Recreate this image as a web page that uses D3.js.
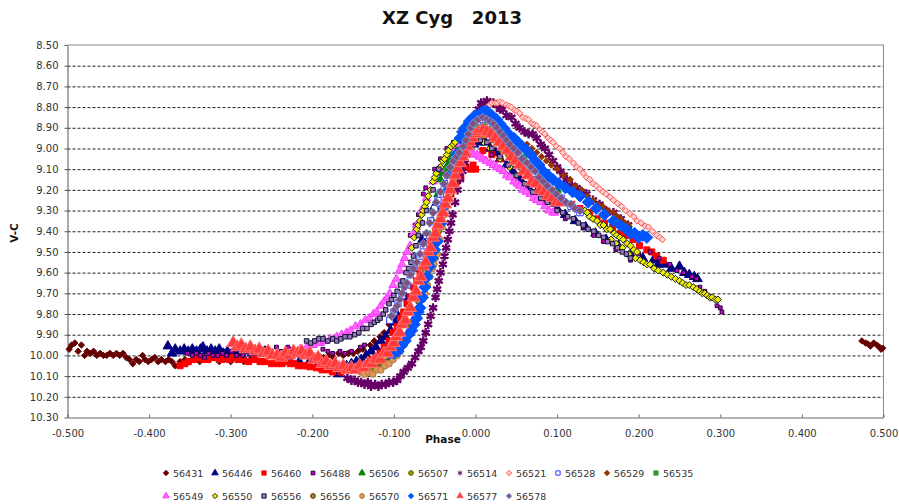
<!DOCTYPE html>
<html>
<head>
<meta charset="utf-8">
<style>
  body { margin: 0; background: #fff; }
  text { font-family: "DejaVu Sans", sans-serif; fill: #333; }
  .grid line { stroke: #222; stroke-width: 1; stroke-dasharray: 3,2; }
  .grid path { stroke: none; }
</style>
<script src="https://cdnjs.cloudflare.com/ajax/libs/d3/7.8.5/d3.min.js"></script>
</head>
<body>
<script>
// readings: [phase, V-C]
var s56431 = [[-0.498,9.97],[-0.495,9.95],[-0.491,9.94],[-0.487,9.98],[-0.483,9.95],[-0.479,10.00],[-0.476,9.98],[-0.472,9.99],[-0.468,9.98],[-0.464,10.00],[-0.460,9.99],[-0.456,10.00],[-0.452,10.00],[-0.448,9.99],[-0.444,10.00],[-0.440,9.99],[-0.436,10.00],[-0.432,9.99],[-0.428,10.01],[-0.424,10.02],[-0.420,10.04],[-0.416,10.02],[-0.412,10.03],[-0.408,10.00],[-0.405,10.02],[-0.401,10.03],[-0.397,10.02],[-0.393,10.01],[-0.389,10.03],[-0.385,10.02],[-0.380,10.03],[-0.376,10.02],[-0.372,10.03],[-0.368,10.05],[-0.362,10.03],[-0.356,10.02],[-0.35,10.03],[-0.344,10.02],[-0.338,10.03],[-0.332,10.01],[-0.326,10.02],[-0.32,10.01],[-0.314,10.03],[-0.308,10.02],[-0.30,10.03],[-0.292,10.02],[-0.284,10.03],[-0.276,10.02],[-0.268,10.02],[-0.26,10.03],
  [-0.192,10.00],[-0.186,10.01],[-0.18,10.00],[-0.174,10.01],[-0.168,9.99],[-0.162,10.00],[-0.156,9.99],[-0.15,9.99],[-0.144,9.98],[-0.138,9.97],[-0.129,9.95],[-0.124,9.93],[-0.117,9.91],[-0.112,9.89],[-0.106,9.85],[-0.103,9.83],
  [0.4735,9.93],[0.478,9.94],[0.481,9.945],[0.484,9.955],[0.488,9.94],[0.492,9.95],[0.495,9.96],[0.497,9.97],[0.499,9.965]];
var s56446 = [[-0.377,9.955],[-0.372,9.99],[-0.368,9.97],[-0.362,9.98],[-0.357,9.97],[-0.352,9.98],[-0.347,9.97],[-0.342,9.98],[-0.337,9.97],[-0.334,9.96],[-0.329,9.98],[-0.324,9.97],[-0.319,9.98],[-0.314,9.97],[-0.309,9.99],[-0.304,9.98],[-0.298,9.99],[-0.292,9.98],[-0.286,10.00],[-0.28,9.98],[-0.274,9.99],[-0.266,9.99],[-0.258,9.98],[-0.25,10.00],[-0.24,10.01],[-0.228,10.02],[-0.216,10.03],[-0.205,10.04],[-0.194,10.05],[-0.184,10.06],[-0.176,10.06],[-0.168,10.09],[-0.158,10.05],[-0.152,10.04],[-0.146,10.03],[-0.14,10.02],[-0.134,10.00],[-0.128,9.98],[-0.122,9.96],[-0.116,9.93],[-0.11,9.91],[-0.104,9.88],[-0.099,9.84],[-0.095,9.81],[-0.085,9.72],[-0.075,9.58],[-0.065,9.44],[-0.05,9.28],[-0.03,9.08],[-0.012,8.99],[-0.002,8.98],[0.006,8.97],[0.012,8.97],[0.018,9.00],[0.025,9.02],[0.03,9.05],[0.038,9.08],[0.046,9.11],[0.055,9.15],[0.065,9.19],[0.075,9.21],[0.087,9.25],[0.1,9.29],[0.11,9.32],[0.122,9.35],[0.135,9.38],[0.147,9.41],[0.16,9.44],[0.175,9.47],[0.19,9.51],[0.205,9.53],[0.218,9.54],[0.224,9.56],[0.232,9.56],[0.24,9.58],[0.25,9.57],[0.256,9.60],[0.262,9.61],[0.268,9.62],[0.272,9.63]];
var s56460 = [[-0.362,10.05],[-0.356,10.04],[-0.352,10.03],[-0.345,10.02],[-0.338,10.01],[-0.333,10.02],[-0.328,10.02],[-0.323,10.01],[-0.318,10.01],[-0.313,10.02],[-0.308,10.01],[-0.302,10.02],[-0.297,10.01],[-0.291,10.02],[-0.285,10.02],[-0.278,10.03],[-0.27,10.02],[-0.264,10.03],[-0.258,10.03],[-0.25,10.04],[-0.243,10.04],[-0.237,10.04],[-0.232,10.03],[-0.227,10.04],[-0.222,10.04],[-0.217,10.05],[-0.212,10.05],[-0.207,10.05],[-0.203,10.055],[-0.195,10.06],[-0.188,10.07],[-0.181,10.07],[-0.175,10.08],[-0.165,10.08],[-0.158,10.07],[-0.148,10.06],[-0.141,10.05],[-0.134,10.04],[-0.128,10.02],[-0.122,10.01],[-0.117,9.99],[-0.112,9.96],[-0.106,9.93],[-0.101,9.89],[-0.096,9.86],[-0.092,9.82],[-0.088,9.79],[-0.084,9.75],[-0.08,9.72],[-0.076,9.67],[-0.072,9.64],[-0.068,9.60],[-0.064,9.57],[-0.059,9.51],[-0.054,9.46],[-0.049,9.40],[-0.043,9.35],[-0.037,9.28],[-0.03,9.22],[-0.024,9.17],[-0.018,9.14],[-0.012,9.09],[-0.006,9.10],[-0.003,9.08],[0.0,9.10],[0.009,9.01],[0.02,9.03],[0.03,9.05],[0.118,9.27],[0.128,9.29],[0.14,9.31],[0.149,9.34],[0.158,9.36],[0.168,9.38],[0.177,9.41],[0.185,9.42],[0.193,9.44],[0.201,9.47],[0.21,9.49],[0.216,9.50],[0.222,9.52],[0.23,9.54]];
var s56488 = [[-0.353,9.99],[-0.347,10.00],[-0.342,9.99],[-0.337,10.00],[-0.332,10.01],[-0.327,9.99],[-0.322,10.00],[-0.316,10.00],[-0.31,9.99],[-0.305,10.00],[-0.299,9.98],[-0.293,10.00],[-0.285,10.00],[-0.272,9.96],[-0.267,9.98],[-0.262,9.97],[-0.256,9.99],[-0.25,9.98],[-0.244,9.96],[-0.238,9.98],[-0.23,9.96],[-0.225,9.97],[-0.215,9.98],[-0.187,9.97],[-0.181,9.98],[-0.175,9.99],[-0.166,9.98],[-0.16,9.99],[-0.152,9.98],[-0.141,9.96],[-0.136,9.95],[-0.08,9.42],[-0.074,9.37],[-0.07,9.32],[-0.064,9.22],[-0.061,9.19],[-0.05,9.10],[-0.043,9.05],[-0.035,9.00],[-0.027,8.97],[0.02,9.03],[0.06,9.17],[0.08,9.25],[0.11,9.34],[0.132,9.38],[0.145,9.42],[0.157,9.45],[0.172,9.49],[0.19,9.54],[0.2,9.51],[0.214,9.50],[0.225,9.53],[0.238,9.56],[0.247,9.59],[0.255,9.60],[0.265,9.62],[0.271,9.63],[0.275,9.67],[0.281,9.69],[0.288,9.72],[0.296,9.76],[0.3,9.77],[0.302,9.79]];
var s56506 = [[-0.13,10.05],[-0.12,10.03],[-0.11,9.99],[-0.1,9.92],[-0.09,9.84],[-0.082,9.77],[-0.075,9.71],[-0.068,9.64],[-0.062,9.58],[-0.059,9.50],[-0.056,9.42],[-0.053,9.35],[-0.05,9.29],[-0.046,9.22],[-0.043,9.15],[-0.04,9.12],[-0.037,9.10],[-0.034,9.08],[-0.031,9.06],[-0.025,9.02],[-0.02,8.99],[-0.015,8.97],[-0.01,8.95],[-0.004,8.93],[0.002,8.91],[0.01,8.91],[0.02,8.92],[0.03,8.95],[0.037,8.98],[0.046,9.01],[0.054,9.04],[0.062,9.07],[0.07,9.10],[0.078,9.13],[0.087,9.15],[0.1,9.20]];
var s56507 = [[-0.14,10.07],[-0.134,10.07],[-0.128,10.06],[-0.122,10.06],[-0.117,10.05],[-0.111,10.03],[-0.105,10.01],[-0.098,9.98],[-0.092,9.95],[-0.08,9.85],[-0.068,9.72],[-0.055,9.55],[-0.04,9.32],[-0.025,9.12],[-0.01,8.98],[0.005,8.93],[0.02,8.94],[0.03,8.98],[0.04,9.03],[0.05,9.06],[0.06,9.10],[0.07,9.14],[0.08,9.18],[0.09,9.22],[0.1,9.25]];
var s56514 = [[-0.157,10.11],[-0.152,10.12],[-0.148,10.12],[-0.144,10.13],[-0.14,10.13],[-0.136,10.14],[-0.132,10.13],[-0.128,10.15],[-0.123,10.14],[-0.119,10.15],[-0.115,10.14],[-0.11,10.14],[-0.106,10.13],[-0.101,10.13],[-0.096,10.12],[-0.092,10.10],[-0.088,10.08],[-0.083,10.06],[-0.078,10.04],[-0.074,10.01],[-0.07,9.98],[-0.067,9.96],[-0.064,9.93],[-0.061,9.89],[-0.058,9.85],[-0.055,9.81],[-0.052,9.77],[-0.049,9.72],[-0.047,9.68],[-0.045,9.64],[-0.043,9.60],[-0.04,9.56],[-0.038,9.52],[-0.036,9.48],[-0.034,9.44],[-0.032,9.40],[-0.03,9.36],[-0.028,9.32],[-0.025,9.26],[-0.022,9.20],[-0.019,9.15],[-0.016,9.11],[-0.013,9.07],[-0.011,9.03],[-0.009,8.99],[0.002,8.83],[0.004,8.81],[0.007,8.78],[0.011,8.79],[0.014,8.77],[0.018,8.78],[0.022,8.78],[0.026,8.79],[0.03,8.81],[0.033,8.81],[0.038,8.84],[0.044,8.85],[0.049,8.88],[0.054,8.90],[0.06,8.92],[0.065,8.93],[0.07,8.93],[0.075,8.95],[0.08,8.98],[0.085,9.00],[0.09,9.03],[0.095,9.06],[0.1,9.09],[0.104,9.11],[0.108,9.13],[0.112,9.15],[0.118,9.18],[0.124,9.19],[0.13,9.21],[0.136,9.22],[0.144,9.25],[0.152,9.27],[0.16,9.30],[0.169,9.31],[0.178,9.34],[0.187,9.37]];
var s56521 = [[0.014,8.80],[0.017,8.79],[0.02,8.78],[0.024,8.78],[0.027,8.78],[0.03,8.775],[0.033,8.78],[0.038,8.79],[0.041,8.795],[0.044,8.80],[0.048,8.815],[0.051,8.82],[0.054,8.83],[0.058,8.85],[0.062,8.855],[0.065,8.86],[0.069,8.88],[0.072,8.885],[0.075,8.89],[0.079,8.91],[0.082,8.92],[0.085,8.93],[0.089,8.95],[0.092,8.96],[0.095,8.97],[0.099,8.99],[0.103,9.00],[0.107,9.02],[0.111,9.04],[0.115,9.05],[0.12,9.07],[0.124,9.09],[0.128,9.10],[0.132,9.12],[0.136,9.14],[0.14,9.15],[0.144,9.17],[0.148,9.18],[0.152,9.195],[0.156,9.21],[0.16,9.22],[0.165,9.235],[0.169,9.25],[0.174,9.265],[0.179,9.28],[0.184,9.30],[0.189,9.315],[0.194,9.33],[0.198,9.35],[0.203,9.36],[0.208,9.375],[0.212,9.38],[0.217,9.40],[0.222,9.42],[0.226,9.43],[0.229,9.44]];
var s56528 = [[-0.105,9.83],[-0.1,9.79],[-0.095,9.75],[-0.09,9.71],[-0.084,9.66],[-0.08,9.61],[-0.075,9.57],[-0.068,9.52],[-0.064,9.47],[-0.06,9.42],[-0.055,9.35],[-0.05,9.29],[-0.046,9.25],[-0.043,9.22],[-0.038,9.17],[-0.034,9.13],[-0.027,9.07],[-0.021,9.03],[-0.015,9.00],[-0.009,8.94],[-0.003,8.89],[0.003,8.87],[0.009,8.86],[0.018,8.88],[0.026,8.91],[0.034,8.95],[0.042,8.99],[0.052,9.03],[0.063,9.08],[0.073,9.12],[0.083,9.17],[0.094,9.21],[0.105,9.24],[0.117,9.28],[0.128,9.31]];
var s56529 = [[0.063,8.98],[0.069,9.00],[0.075,9.02],[0.081,9.04],[0.087,9.06],[0.093,9.08],[0.1,9.10],[0.108,9.13],[0.116,9.15],[0.122,9.18],[0.13,9.20],[0.137,9.23],[0.144,9.25],[0.15,9.27],[0.156,9.28],[0.162,9.30],[0.169,9.31],[0.174,9.33],[0.178,9.34],[0.183,9.36],[0.187,9.37]];
var s56535 = [[-0.04,9.10],[-0.03,9.03],[-0.02,8.97],[-0.01,8.93],[0.0,8.90],[0.01,8.89],[0.02,8.90],[0.03,8.93],[0.04,8.97],[0.05,9.00],[0.06,9.04],[0.07,9.08],[0.08,9.12]];
var s56549 = [[-0.215,9.97],[-0.207,9.96],[-0.199,9.95],[-0.19,9.94],[-0.185,9.93],[-0.178,9.92],[-0.17,9.91],[-0.164,9.90],[-0.158,9.89],[-0.153,9.88],[-0.147,9.86],[-0.141,9.85],[-0.135,9.83],[-0.13,9.82],[-0.125,9.80],[-0.121,9.79],[-0.116,9.76],[-0.112,9.74],[-0.108,9.72],[-0.105,9.70],[-0.101,9.66],[-0.097,9.63],[-0.093,9.59],[-0.09,9.56],[-0.087,9.53],[-0.084,9.50],[-0.08,9.47],[-0.076,9.41],[-0.072,9.37],[-0.066,9.30],[-0.06,9.24],[-0.052,9.16],[-0.045,9.10],[-0.03,9.00],[-0.02,8.98],[-0.006,9.02],[-0.002,9.03],[0.002,9.03],[0.005,9.04],[0.009,9.05],[0.013,9.06],[0.018,9.07],[0.022,9.08],[0.026,9.09],[0.03,9.10],[0.034,9.11],[0.038,9.13],[0.042,9.14],[0.047,9.16],[0.051,9.17],[0.054,9.18],[0.058,9.20],[0.062,9.21],[0.067,9.22],[0.071,9.24],[0.075,9.25],[0.08,9.26],[0.085,9.28],[0.09,9.30],[0.095,9.31],[0.097,9.31]];
var s56550 = [[-0.078,9.48],[-0.075,9.43],[-0.072,9.39],[-0.07,9.37],[-0.068,9.35],[-0.066,9.32],[-0.064,9.30],[-0.062,9.28],[-0.06,9.26],[-0.058,9.23],[-0.055,9.20],[-0.052,9.16],[-0.05,9.14],[-0.048,9.12],[-0.045,9.10],[-0.043,9.09],[-0.04,9.06],[-0.038,9.05],[-0.035,9.03],[-0.033,9.01],[-0.03,8.99],[-0.027,8.98],[-0.025,8.97],[0.01,8.97],[0.018,9.00],[0.03,9.05],[0.042,9.09],[0.05,9.13],[0.134,9.30],[0.137,9.31],[0.14,9.33],[0.144,9.34],[0.149,9.35],[0.153,9.37],[0.157,9.37],[0.161,9.39],[0.165,9.39],[0.17,9.41],[0.173,9.42],[0.177,9.43],[0.181,9.44],[0.186,9.46],[0.19,9.47],[0.194,9.49],[0.198,9.50],[0.166,9.44],[0.172,9.46],[0.18,9.48],[0.188,9.51],[0.196,9.53],[0.202,9.54],[0.206,9.55],[0.21,9.56],[0.214,9.56],[0.219,9.58],[0.224,9.59],[0.23,9.60],[0.235,9.61],[0.24,9.62],[0.245,9.63],[0.25,9.64],[0.254,9.65],[0.258,9.66],[0.262,9.66],[0.267,9.67],[0.271,9.68],[0.275,9.69],[0.278,9.70],[0.281,9.70],[0.284,9.71],[0.287,9.72],[0.29,9.72],[0.294,9.73],[0.297,9.73]];
var s56556a = [[-0.207,9.93],[-0.202,9.94],[-0.197,9.93],[-0.192,9.92],[-0.187,9.92],[-0.181,9.93],[-0.175,9.92],[-0.17,9.93],[-0.165,9.92],[-0.16,9.91],[-0.154,9.91],[-0.148,9.90],[-0.143,9.89],[-0.138,9.87],[-0.133,9.87],[-0.128,9.85],[-0.124,9.84],[-0.12,9.83],[-0.117,9.82],[-0.113,9.80],[-0.11,9.78],[-0.106,9.75],[-0.103,9.73],[-0.1,9.71],[-0.096,9.69],[-0.092,9.66],[-0.089,9.64],[-0.085,9.60],[-0.082,9.58],[-0.079,9.55],[-0.076,9.52],[-0.073,9.47],[-0.07,9.42],[-0.065,9.36],[-0.06,9.30],[-0.052,9.20],[-0.045,9.10],[0.006,8.96],[0.014,8.97],[0.02,9.00],[0.03,9.04],[0.04,9.08],[0.05,9.13],[0.06,9.17],[0.07,9.21],[0.08,9.24],[0.088,9.26],[0.095,9.27],[0.1,9.30],[0.107,9.31],[0.113,9.33],[0.12,9.34],[0.126,9.36],[0.132,9.37],[0.138,9.39],[0.145,9.40],[0.151,9.42],[0.157,9.43],[0.162,9.45],[0.168,9.46],[0.174,9.48],[0.18,9.50],[0.185,9.51],[0.19,9.53]];
var s56556b = [[-0.138,10.08],[-0.133,10.08],[-0.128,10.07],[-0.122,10.07],[-0.117,10.06],[-0.112,10.05],[-0.108,10.03],[-0.103,10.01],[-0.098,9.99],[-0.09,9.94],[-0.08,9.84],[-0.07,9.74],[-0.058,9.60],[-0.045,9.40],[-0.03,9.18],[-0.015,9.02],[0.0,8.95],[0.01,8.94],[0.02,8.96],[0.032,9.01],[0.045,9.06],[0.058,9.11],[0.07,9.16],[0.08,9.20],[0.09,9.24]];
var s56570 = [[-0.141,10.08],[-0.136,10.09],[-0.131,10.08],[-0.126,10.09],[-0.121,10.07],[-0.116,10.07],[-0.111,10.05],[-0.106,10.04],[-0.101,10.02],[-0.096,10.00],[-0.092,9.98],[-0.088,9.95],[-0.084,9.92],[-0.08,9.88],[-0.076,9.85],[-0.072,9.81],[-0.068,9.77],[-0.065,9.73],[-0.062,9.70],[-0.059,9.66],[-0.056,9.62],[-0.053,9.58],[-0.051,9.56],[-0.049,9.53],[-0.047,9.51],[-0.044,9.44],[-0.041,9.38],[-0.038,9.32],[-0.035,9.26],[-0.032,9.22],[-0.03,9.19],[-0.027,9.16],[-0.025,9.13]];
var s56571 = [[-0.105,9.99],[-0.1,9.99],[-0.095,9.98],[-0.09,9.95],[-0.086,9.93],[-0.082,9.90],[-0.078,9.88],[-0.075,9.85],[-0.072,9.82],[-0.07,9.79],[-0.068,9.77],[-0.065,9.72],[-0.062,9.67],[-0.059,9.62],[-0.056,9.57],[-0.053,9.53],[-0.05,9.49],[-0.047,9.45],[-0.042,9.36],[-0.038,9.28],[-0.033,9.20],[-0.028,9.12],[-0.023,9.03],[-0.019,8.95],[-0.016,8.92],[-0.013,8.90],[-0.008,8.87],[-0.003,8.85],[0.001,8.84],[0.006,8.83],[0.01,8.82],[0.014,8.82],[0.02,8.84],[0.026,8.86],[0.03,8.88],[0.034,8.90],[0.038,8.92],[0.042,8.94],[0.047,8.95],[0.052,8.97],[0.057,8.99],[0.063,9.01],[0.068,9.03],[0.073,9.06],[0.078,9.08],[0.083,9.11],[0.089,9.13],[0.095,9.15],[0.102,9.17],[0.11,9.19],[0.119,9.21],[0.128,9.23],[0.138,9.26],[0.148,9.29],[0.158,9.32],[0.169,9.35],[0.177,9.37],[0.185,9.39],[0.19,9.41],[0.195,9.41],[0.2,9.43],[0.205,9.42],[0.21,9.43]];
var s56577 = [[-0.297,9.94],[-0.292,9.96],[-0.287,9.95],[-0.282,9.97],[-0.276,9.96],[-0.27,9.98],[-0.265,9.97],[-0.26,9.99],[-0.254,9.98],[-0.249,10.00],[-0.243,10.00],[-0.238,10.01],[-0.233,9.99],[-0.228,10.00],[-0.223,9.98],[-0.218,9.99],[-0.213,9.98],[-0.208,10.00],[-0.203,9.99],[-0.198,10.02],[-0.193,10.01],[-0.188,10.04],[-0.183,10.03],[-0.178,10.05],[-0.172,10.04],[-0.167,10.06],[-0.162,10.05],[-0.157,10.07],[-0.152,10.06],[-0.147,10.07],[-0.142,10.05],[-0.137,10.06],[-0.132,10.04],[-0.127,10.04],[-0.122,10.02],[-0.117,10.02],[-0.112,9.99],[-0.108,9.99],[-0.104,9.96],[-0.1,9.94],[-0.097,9.91],[-0.093,9.89],[-0.09,9.85],[-0.086,9.83],[-0.083,9.79],[-0.08,9.77],[-0.076,9.72],[-0.073,9.69],[-0.07,9.64],[-0.067,9.62],[-0.064,9.57],[-0.061,9.55],[-0.058,9.50],[-0.055,9.48],[-0.052,9.43],[-0.049,9.41],[-0.046,9.37],[-0.043,9.34],[-0.04,9.31],[-0.037,9.27],[-0.034,9.24],[-0.031,9.20],[-0.028,9.17],[-0.025,9.13],[-0.022,9.10],[-0.019,9.07],[-0.016,9.04],[-0.013,9.02],[-0.01,8.99],[-0.007,8.97],[-0.004,8.95],[0.0,8.93],[0.004,8.92],[0.009,8.91],[0.014,8.92],[0.019,8.93],[0.024,8.95],[0.029,8.97],[0.034,8.99],[0.039,9.01],[0.044,9.04],[0.049,9.06],[0.054,9.08],[0.059,9.11],[0.064,9.13],[0.069,9.16],[0.074,9.17],[0.079,9.20],[0.084,9.21],[0.089,9.23],[0.094,9.24],[0.099,9.26],[0.104,9.26]];
var s56578 = [[-0.103,9.81],[-0.099,9.78],[-0.096,9.76],[-0.093,9.73],[-0.09,9.70],[-0.087,9.67],[-0.084,9.65],[-0.08,9.61],[-0.076,9.58],[-0.072,9.55],[-0.068,9.51],[-0.064,9.46],[-0.06,9.41],[-0.056,9.36],[-0.052,9.31],[-0.048,9.26],[-0.043,9.21],[-0.039,9.17],[-0.035,9.13],[-0.031,9.09],[-0.027,9.06],[-0.023,9.04],[-0.02,9.02],[-0.015,8.99],[-0.012,8.96],[-0.009,8.93],[-0.006,8.90],[-0.003,8.88],[0.003,8.86],[0.009,8.85],[0.014,8.86],[0.018,8.87],[0.022,8.88],[0.026,8.90],[0.03,8.92],[0.034,8.94],[0.038,8.96],[0.042,8.98],[0.047,9.00],[0.052,9.02],[0.057,9.05],[0.063,9.07],[0.068,9.09],[0.073,9.11],[0.078,9.14],[0.083,9.16],[0.088,9.18],[0.094,9.20],[0.099,9.22],[0.105,9.24],[0.111,9.26],[0.117,9.27],[0.122,9.29],[0.128,9.30]];

var seriesNames = ["56431","56446","56460","56488","56506","56507","56514","56521","56528","56529","56535","56549","56550","56556","56556","56570","56571","56577","56578"];
var seriesValues = [s56431,s56446,s56460,s56488,s56506,s56507,s56514,s56521,s56528,s56529,s56535,s56549,s56550,s56556a,s56556b,s56570,s56571,s56577,s56578];
var xTicks = [-0.5,-0.4,-0.3,-0.2,-0.1,0,0.1,0.2,0.3,0.4,0.5];
var yTicks = [8.5,8.6,8.7,8.8,8.9,9.0,9.1,9.2,9.3,9.4,9.5,9.6,9.7,9.8,9.9,10.0,10.1,10.2,10.3];

// marker look per series, same order as seriesNames
var diamond = d3.symbolDiamond2 || d3.symbolDiamond;
var styles = [
  {sym: diamond, size: 26, fill: "#660000", stroke: "#660000"},
  {sym: d3.symbolTriangle, size: 40, fill: "#000080", stroke: "#000080"},
  {sym: d3.symbolSquare, size: 36, fill: "#ff0000", stroke: "#ff0000"},
  {sym: d3.symbolSquare, size: 14, fill: "#cc00cc", stroke: "#220033"},
  {sym: d3.symbolTriangle, size: 30, fill: "#008000", stroke: "#008000"},
  {sym: d3.symbolCircle, size: 24, fill: "#999900", stroke: "#666600"},
  {sym: d3.symbolAsterisk, size: 60, fill: "none", stroke: "#660066", width: 2.4},
  {sym: diamond, size: 26, fill: "#ffd0d0", stroke: "#ff5555"},
  {sym: d3.symbolSquare, size: 40, fill: "#fff", stroke: "#3333ff"},
  {sym: diamond, size: 26, fill: "#993300", stroke: "#993300"},
  {sym: d3.symbolSquare, size: 24, fill: "#339933", stroke: "#339933"},
  {sym: d3.symbolTriangle, size: 30, fill: "#ff66ff", stroke: "#ff33ff"},
  {sym: diamond, size: 32, fill: "#eeee00", stroke: "#222"},
  {sym: d3.symbolSquare, size: 20, fill: "#9977bb", stroke: "#111133"},
  {sym: d3.symbolCircle, size: 24, fill: "#aa8833", stroke: "#443300"},
  {sym: d3.symbolCircle, size: 34, fill: "#dd9955", stroke: "#aa7744"},
  {sym: diamond, size: 90, fill: "#0055ff", stroke: "#0055ff"},
  {sym: d3.symbolTriangle, size: 70, fill: "#ff3a3a", stroke: "#ff7070"},
  {sym: diamond, size: 48, fill: "#84507c", stroke: "#6f9ae6"}
];

var width = 899, height = 504;
var margin = {top: 45, right: 15.5, bottom: 86.5, left: 67.5};

var x = d3.scaleLinear().domain([-0.5, 0.5]).range([margin.left, width - margin.right]);
var y = d3.scaleLinear().domain([8.5, 10.3]).range([margin.top, height - margin.bottom]);

var svg = d3.select("body").append("svg")
    .attr("width", width)
    .attr("height", height)
    .style("display", "block");

// title and axis names
svg.append("text").attr("x", 452).attr("y", 23.5).attr("text-anchor", "middle")
    .attr("font-size", 18).attr("font-weight", "bold").style("fill", "#111")
    .style("white-space", "pre").text("XZ Cyg   2013");
svg.append("text").attr("x", 443).attr("y", 443).attr("text-anchor", "middle")
    .attr("font-size", 10.5).attr("font-weight", "bold").style("fill", "#111").text("Phase");
svg.append("text").attr("transform", "translate(18,233) rotate(-90)").attr("text-anchor", "middle")
    .attr("font-size", 10.5).attr("font-weight", "bold").style("fill", "#111").text("V-C");

// gridlines
svg.append("g").attr("class", "grid")
    .attr("transform", "translate(" + margin.left + ",0)")
    .call(d3.axisRight(y).tickValues(yTicks.slice(1, -1)).tickSize(x.range()[1] - x.range()[0]).tickFormat(""));

// plot frame
svg.append("path")
    .attr("d", "M" + x(-0.5) + "," + y(8.5) + "H" + x(0.5) + "V" + y(10.3))
    .attr("fill", "none").attr("stroke", "#888");

// axes
var xAxis = svg.append("g")
    .attr("transform", "translate(0," + y(10.3) + ")")
    .call(d3.axisBottom(x).tickValues(xTicks).tickSizeInner(-3).tickSizeOuter(0)
        .tickFormat(function(d) { return d3.format(".3f")(d).replace("\u2212", "-"); }));
xAxis.selectAll("text").attr("y", 12).attr("font-size", 10);
xAxis.selectAll("line,path").attr("stroke", "#666");

var yAxis = svg.append("g")
    .attr("transform", "translate(" + x(-0.5) + ",0)")
    .call(d3.axisLeft(y).tickValues(yTicks).tickSizeInner(3).tickSizeOuter(0).tickFormat(d3.format(".2f")));
yAxis.selectAll("text").attr("x", -9).attr("font-size", 10);
yAxis.selectAll("line,path").attr("stroke", "#555");
svg.selectAll("g.tick text").style("font-family", '"DejaVu Sans", sans-serif');

// series, first one at the bottom
seriesValues.forEach(function(values, i) {
  var s = styles[i];
  svg.append("g").selectAll("path")
      .data(values)
    .enter().append("path")
      .attr("transform", function(d) { return "translate(" + x(d[0]) + "," + y(d[1]) + ")"; })
      .attr("d", d3.symbol().type(s.sym).size(s.size)())
      .attr("fill", s.fill)
      .attr("stroke", s.stroke)
      .attr("stroke-width", s.width || 1);
});

// legend
var legend = svg.selectAll("g.legend")
    .data(seriesNames)
  .enter().append("g")
    .attr("class", "legend")
    .attr("transform", function(d, i) {
      var col = i < 11 ? i : i - 11, row = i < 11 ? 0 : 1;
      return "translate(" + (166 + col * 49) + "," + (473 + row * 23) + ")";
    });
legend.append("path")
    .attr("d", function(d, i) { return d3.symbol().type(styles[i].sym).size(Math.min(styles[i].size, 18))(); })
    .attr("fill", function(d, i) { return styles[i].fill; })
    .attr("stroke", function(d, i) { return styles[i].stroke; })
    .attr("stroke-width", 1);
legend.append("text")
    .attr("x", 7)
    .attr("y", 3.5)
    .attr("font-size", 9.5)
    .text(function(d) { return d; });
</script>
</body>
</html>
